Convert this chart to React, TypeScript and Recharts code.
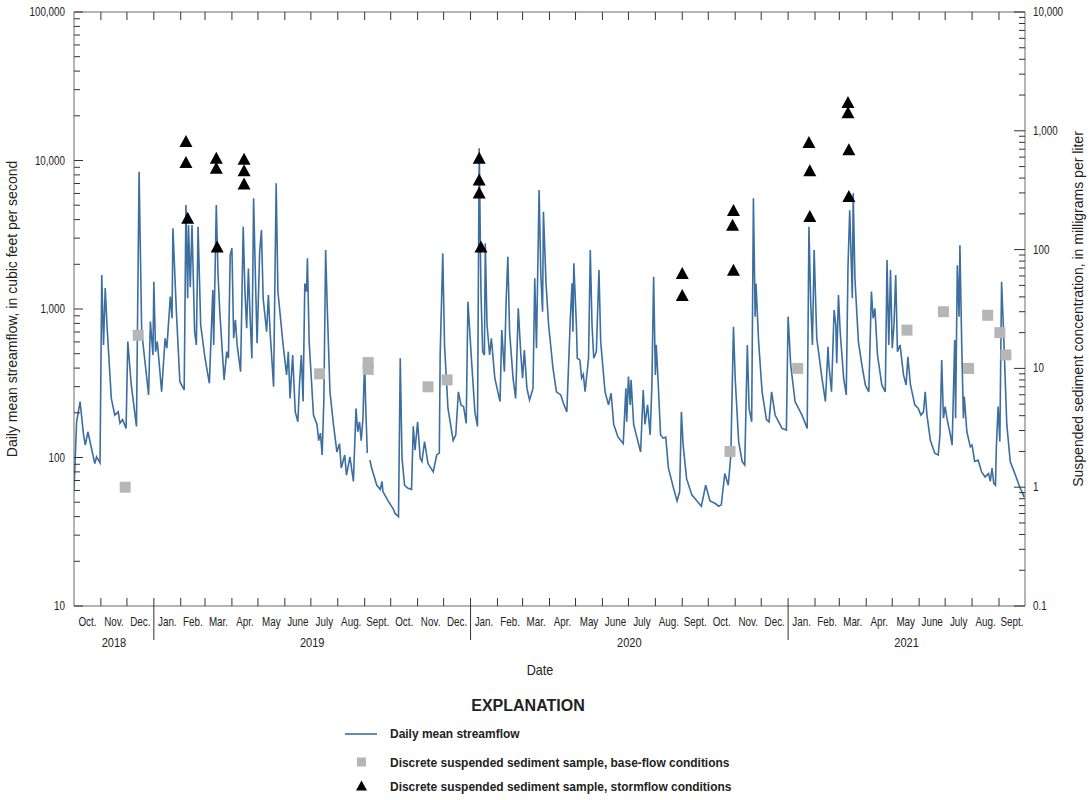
import React from "react"
import { ComposedChart, Line, Scatter, XAxis, YAxis, ReferenceLine, Label } from "recharts"

// days are counted from 2018-10-01 (start of water year 2019)
const flow2019: [number, number | null][] = [
  [0, 60], [3, 174], [7, 238], [11, 142], [13, 121], [16, 149], [24, 91], [26, 101], [30, 92], [32, 1694],
  [34, 573], [36, 1387], [38, 780], [43, 250], [47, 193], [51, 203], [53, 170], [56, 180], [60, 157], [62, 603],
  [66, 308], [72, 162], [75, 8410], [78, 703], [86, 264], [88, 822], [91, 490], [92, 1527], [94, 516], [96, 603],
  [101, 277], [105, 635], [107, 544], [111, 1211], [113, 866], [114, 3493], [118, 960], [122, 324], [127, 285], [129, 5010],
  [131, 1180], [132, 3680], [134, 1400], [136, 3680], [139, 703], [141, 573], [143, 3580], [146, 780], [151, 466], [156, 316],
  [160, 1343], [161, 573], [164, 5010], [166, 1694], [168, 960], [173, 333], [176, 516], [178, 466], [180, 2310], [182, 2564],
  [184, 635], [186, 844], [188, 573], [192, 378], [195, 3580], [197, 1311], [199, 741], [201, 1875], [203, 866], [205, 466],
  [207, 5560], [209, 1694], [211, 588], [214, 2432], [216, 3404], [218, 1180], [222, 703], [224, 1240], [226, 703], [230, 300],
  [233, 7020], [235, 1311], [241, 573], [245, 360], [247, 516], [249, 250], [252, 490], [255, 203], [258, 174], [260, 324],
  [262, 490], [264, 238], [266, 1486], [268, 1311], [269, 2193], [271, 603], [276, 193], [280, 167], [282, 130], [284, 146],
  [286, 104], [288, 250], [290, 2494], [292, 960], [295, 277], [299, 167], [303, 109], [306, 124], [308, 85], [312, 104],
  [314, 76], [318, 101], [322, 69], [325, 214], [327, 149], [329, 174], [331, 130], [333, 184], [335, 466], [336, 238],
  [338, 107], [339, null], [341, 96], [343, 85], [349, 65], [353, 61], [355, 69], [356, 59], [362, 51],
]

const flow2020: [number, number][] = [
  [368, 45], [370, 42], [374, 40], [376, 466], [378, 99], [381, 65], [385, 62], [389, 61], [391, 162], [393, 112],
  [396, 174], [399, 99], [401, 94], [404, 128], [408, 91], [414, 80], [418, 104], [421, 107], [422, 490], [425, 2371],
  [427, 573], [431, 214], [437, 130], [440, 142], [443, 277], [446, 226], [449, 220], [452, 170], [454, 1120], [458, 466],
  [462, 203], [465, 162], [467, 12080], [469, 1311], [471, 516], [473, 490], [474, 2770], [476, 780], [479, 490], [481, 635],
  [485, 342], [491, 238], [493, 722], [496, 378], [498, 1120], [500, 2250], [502, 703], [506, 342], [509, 250], [512, 1010],
  [515, 490], [517, 342], [519, 530], [522, 292], [525, 244], [529, 292], [531, 1610], [533, 544], [536, 6330], [538, 1694],
  [540, 960], [541, 4520], [544, 1486], [547, 780], [552, 400], [556, 277], [561, 264], [564, 232], [568, 203], [572, 866],
  [574, 1490], [575, 703], [576, 2033], [579, 780], [580, 466], [583, 454], [585, 342], [587, 362], [589, 277], [593, 466],
  [595, 2494], [597, 780], [599, 466], [602, 516], [605, 1832], [607, 603], [612, 277], [616, 226], [619, 271], [622, 167],
  [627, 137], [633, 124], [636, 292], [637, 174], [639, 351], [641, 226], [642, 333], [645, 167], [648, 142], [653, 109],
  [656, 285], [658, 167], [661, 226], [664, 142], [666, 308], [668, 1650], [670, 360], [671, 573], [673, 342], [676, 142],
  [679, 135], [682, 137], [685, 85], [691, 62], [695, 51], [698, 59], [700, 203], [702, 121], [706, 72], [712, 56],
  [718, 51], [723, 47], [728, 65],
]

const flow2021: [number, number][] = [
  [733, 51], [739, 49], [743, 47], [746, 48], [750, 78], [754, 65], [757, 104], [760, 760], [762, 342], [766, 128],
  [770, 94], [773, 89], [776, 573], [778, 214], [781, 174], [783, 5560], [785, 888], [786, 1486], [789, 603], [793, 277],
  [798, 180], [801, 174], [804, 277], [808, 193], [816, 157], [821, 153], [823, 888], [826, 420], [831, 238], [839, 193],
  [842, 174], [845, 157], [847, 3580], [849, 1120], [851, 573], [853, 2494], [856, 635], [862, 342], [866, 238], [869, 557],
  [870, 420], [873, 277], [876, 985], [878, 780], [879, 432], [881, 1240], [883, 703], [887, 342], [890, 264], [892, 1920],
  [894, 4620], [897, 1180], [898, 6010], [900, 1610], [904, 603], [908, 420], [912, 308], [916, 277], [919, 1311], [921, 866],
  [923, 1010], [926, 490], [931, 308], [935, 277], [937, 2140], [939, 573], [941, 1832], [943, 544], [945, 780], [947, 1694],
  [949, 516], [952, 573], [956, 360], [959, 308], [961, 477], [964, 308], [969, 226], [973, 214], [976, 193], [979, 203],
  [981, 277], [983, 193], [987, 130], [992, 107], [996, 104], [998, 142], [1000, 454], [1002, 184], [1004, 220], [1006, 184],
  [1010, 142], [1012, 121], [1015, 618], [1016, 184], [1018, 1970], [1020, 888], [1021, 2690], [1023, 603], [1025, 184], [1026, 257],
  [1029, 149], [1033, 118], [1035, 121], [1038, 94], [1042, 96], [1046, 80], [1050, 74], [1054, 78], [1056, 69], [1058, 85],
  [1060, 67], [1062, 65], [1063, 118], [1065, 220], [1067, 128], [1069, 1527], [1071, 780], [1075, 167], [1079, 94], [1085, 76],
  [1090, 63], [1094, 56], [1095, 54],
]

// discrete samples, suspended sediment concentration (mg/L)
const baseDays = [59, 74, 283, 339, 339, 408, 430, 756, 834, 960, 1002, 1031, 1053, 1067, 1074]
const baseConc = [1.0, 19, 9.0, 11.2, 9.8, 7.0, 8.0, 2.0, 10, 21, 30, 10, 28, 20, 13]

const stormDays = [129, 129, 131, 164, 164, 165, 196, 196, 196, 467, 467, 467, 469, 701, 701, 760, 759, 760, 847, 848, 848, 892, 892, 893, 893]
const stormConc = [811, 540, 184, 588, 484, 105, 577, 462, 356, 588, 386, 299, 105, 63, 41, 213, 160, 67, 796, 462, 190, 1727, 1422, 691, 280]

const monthNames = ["Oct.", "Nov.", "Dec.", "Jan.", "Feb.", "Mar.", "Apr.", "May", "June", "July", "Aug.", "Sept."]
const yearNames = ["2018", "2019", "2020", "2021"]
const flowMajor = [10, 100, 1000, 10000, 100000]
const concMajor = [0.1, 1, 10, 100, 1000, 10000]

const FONT = "'Liberation Sans', Arial, sans-serif"
const LINE_BLUE = "#3c6e9f"
const AXIS = "#6a6a6a"
const TOP = 12
const LEFT = 74
const RIGHT = 1025
const TOTAL_DAYS = 1096
const PX_PER_DAY = (RIGHT - LEFT) / TOTAL_DAYS

const DAY = 86400000
const START = Date.UTC(2018, 9, 1)
const monthStarts = Array.from({ length: 37 }, (_, i) => (Date.UTC(2018, 9 + i, 1) - START) / DAY)

const logTicks = (lo: number, hi: number) => {
  const out: number[] = []
  for (let d = lo; d < hi; d *= 10) {
    for (let k = 1; k < 10; k++) out.push(+(d * k).toPrecision(3))
  }
  out.push(hi)
  return out
}
const flowTicks = logTicks(10, 100000)
const concTicks = logTicks(0.1, 10000)

const flowData = [...flow2019, ...flow2020, ...flow2021].map(([day, cfs]) => ({ day, cfs }))
const baseData = baseDays.map((day, i) => ({ day, conc: baseConc[i] }))
const stormData = stormDays.map((day, i) => ({ day, conc: stormConc[i] }))

const fmt = (v: number) => (v >= 1000 ? v.toLocaleString("en-US") : String(v))

// condensed-looking text: regular sans squeezed horizontally
function CText({ x, y, size, sx = 0.82, anchor = "start", weight = "normal", children }: any) {
  return (
    <text
      transform={`translate(${x},${y}) scale(${sx},1)`}
      textAnchor={anchor}
      fontSize={size}
      fontWeight={weight}
      fontFamily={FONT}
      fill="#222"
    >
      {children}
    </text>
  )
}

function MonthTick(props: any) {
  const { x, y, payload, index } = props
  if (index >= 36) return <g />
  const len = monthStarts[index + 1] - monthStarts[index]
  const isJan = index % 12 === 3
  let yearLabel = null
  if (index === 0 || isJan) {
    const end = index === 0 ? monthStarts[3] : Math.min(monthStarts[index + 12] ?? TOTAL_DAYS, TOTAL_DAYS)
    const cx = x + ((end - payload.value) * PX_PER_DAY) / 2
    const yi = index === 0 ? 0 : (index - 3) / 12 + 1
    yearLabel = <CText x={cx} y={y + 41} size={13} sx={0.85} anchor="middle">{yearNames[yi]}</CText>
  }
  return (
    <g>
      {index > 0 && <line x1={x} y1={y} x2={x} y2={y - 8} stroke="#333" />}
      {index > 0 && <line x1={x} y1={TOP} x2={x} y2={TOP + 8} stroke="#333" />}
      {isJan && <line x1={x} y1={y} x2={x} y2={y + 34} stroke="#333" />}
      <CText x={x + (len * PX_PER_DAY) / 2} y={y + 20} size={12} anchor="middle">
        {monthNames[index % 12]}
      </CText>
      {yearLabel}
    </g>
  )
}

function FlowTick(props: any) {
  const { x, y, payload } = props
  const major = flowMajor.includes(payload.value)
  return (
    <g>
      <line x1={x} y1={y} x2={x + (major ? 9 : 6)} y2={y} stroke="#333" />
      {major && <CText x={x - 9} y={y + 4} size={12} anchor="end">{fmt(payload.value)}</CText>}
    </g>
  )
}

function ConcTick(props: any) {
  const { x, y, payload } = props
  const major = concMajor.includes(payload.value)
  return (
    <g>
      <line x1={x} y1={y} x2={x - (major ? 11 : 6)} y2={y} stroke="#333" />
      {major && <CText x={x + 8} y={y + 4} size={12}>{fmt(payload.value)}</CText>}
    </g>
  )
}

const squareShape = (p: any) => <rect x={p.cx - 5.5} y={p.cy - 5.5} width={11} height={11} fill="#b6b6b6" />
const triangleShape = (p: any) => (
  <path d={`M${p.cx},${p.cy - 6.5} L${p.cx + 6.5},${p.cy + 5.5} L${p.cx - 6.5},${p.cy + 5.5} Z`} fill="#000" />
)

function Explanation() {
  return (
    <svg width={1089} height={120} style={{ position: "absolute", left: 0, top: 680 }}>
      <CText x={528} y={31} size={16} sx={1} weight="bold" anchor="middle">EXPLANATION</CText>
      <line x1={345} y1={54} x2={377} y2={54} stroke={LINE_BLUE} strokeWidth={1.6} />
      <CText x={390} y={58} size={13} sx={0.92} weight="bold">Daily mean streamflow</CText>
      <rect x={357} y={77.5} width={9} height={9} fill="#b6b6b6" />
      <CText x={390} y={86.5} size={13} sx={0.92} weight="bold">Discrete suspended sediment sample, base-flow conditions</CText>
      <path d="M361.5,100.5 L367,110.5 L356,110.5 Z" fill="#000" />
      <CText x={390} y={111} size={13} sx={0.92} weight="bold">Discrete suspended sediment sample, stormflow conditions</CText>
    </svg>
  )
}

export default function App() {
  return (
    <div style={{ position: "absolute", left: 0, top: 0, width: 1089, height: 800, background: "#fff" }}>
      <ComposedChart width={1089} height={680} margin={{ top: TOP, right: 0, bottom: 0, left: 0 }}>
        <XAxis
          dataKey="day"
          type="number"
          domain={[0, TOTAL_DAYS]}
          ticks={monthStarts}
          interval={0}
          allowDataOverflow
          height={74}
          tickSize={0}
          tickMargin={0}
          tick={<MonthTick />}
          axisLine={{ stroke: AXIS }}
        >
          <Label content={() => <CText x={540} y={675} size={14} sx={0.9} anchor="middle">Date</CText>} />
        </XAxis>
        <YAxis
          yAxisId="flow"
          dataKey="cfs"
          scale="log"
          domain={[10, 100000]}
          ticks={flowTicks}
          interval={0}
          allowDataOverflow
          width={LEFT}
          tickSize={0}
          tickMargin={0}
          tick={<FlowTick />}
          axisLine={{ stroke: AXIS }}
        >
          <Label
            content={() => (
              <text x={17} y={309} transform="rotate(-90 17 309)" textAnchor="middle" fontSize={14} fontFamily={FONT} fill="#222">
                Daily mean streamflow, in cubic feet per second
              </text>
            )}
          />
        </YAxis>
        <YAxis
          yAxisId="conc"
          orientation="right"
          dataKey="conc"
          scale="log"
          domain={[0.1, 10000]}
          ticks={concTicks}
          interval={0}
          allowDataOverflow
          width={1089 - RIGHT}
          tickSize={0}
          tickMargin={0}
          tick={<ConcTick />}
          axisLine={{ stroke: AXIS }}
        >
          <Label
            content={() => (
              <text x={1083} y={309} transform="rotate(-90 1083 309)" textAnchor="middle" fontSize={14} fontFamily={FONT} fill="#222">
                Suspended sediment concentration, in milligrams per liter
              </text>
            )}
          />
        </YAxis>
        <ReferenceLine yAxisId="flow" y={100000} stroke={AXIS} />
        <Line
          yAxisId="flow"
          data={flowData}
          dataKey="cfs"
          type="linear"
          stroke={LINE_BLUE}
          strokeWidth={1.6}
          dot={false}
          activeDot={false}
          isAnimationActive={false}
        />
        <Scatter yAxisId="conc" data={baseData} shape={squareShape} isAnimationActive={false} />
        <Scatter yAxisId="conc" data={stormData} shape={triangleShape} isAnimationActive={false} />
      </ComposedChart>
      <Explanation />
    </div>
  )
}
